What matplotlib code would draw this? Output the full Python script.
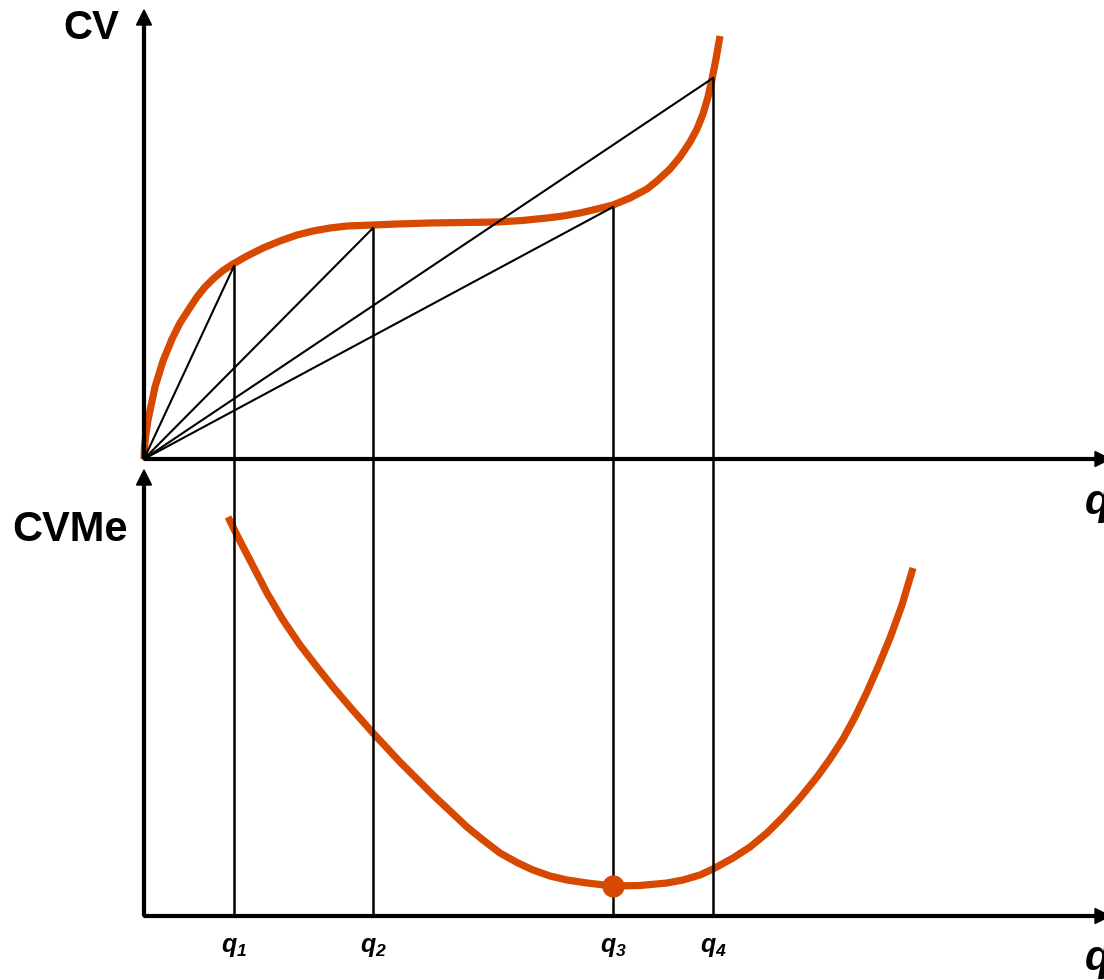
import matplotlib
matplotlib.use("Agg")
import matplotlib.pyplot as plt

plt.rcParams['font.family'] = ['Liberation Sans', 'DejaVu Sans']
plt.rcParams['mathtext.fontset'] = 'custom'
plt.rcParams['mathtext.it'] = 'Liberation Sans:italic:bold'
plt.rcParams['mathtext.rm'] = 'Liberation Sans:italic:bold'
plt.rcParams['mathtext.bf'] = 'Liberation Sans:italic:bold'

# ---- data ----
cv_q = [0.0, 0.005, 0.015, 0.04, 0.11, 0.19, 0.28, 0.36, 0.45, 0.53, 0.61,
        0.69, 0.79, 0.89, 1.03, 1.19, 1.36, 1.53, 1.69, 1.86, 2.03, 2.29,
        2.53, 2.86, 3.19, 3.53, 3.78, 4.03, 4.19, 4.36, 4.53, 4.69, 4.86,
        5.03, 5.13, 5.26, 5.36, 5.46, 5.53, 5.59, 5.64, 5.68, 5.72, 5.76]
cv_v = [0.0, 0.12, 0.22, 0.39, 0.72, 0.98, 1.20, 1.36, 1.50, 1.62, 1.72,
        1.80, 1.885, 1.95, 2.03, 2.11, 2.18, 2.24, 2.28, 2.31, 2.33, 2.34,
        2.35, 2.36, 2.365, 2.37, 2.385, 2.41, 2.43, 2.46, 2.50, 2.54, 2.61,
        2.70, 2.78, 2.90, 3.02, 3.17, 3.30, 3.45, 3.62, 3.80, 4.00, 4.23]

cvme_q = [0.84, 0.96, 1.09, 1.23, 1.39, 1.56, 1.73, 1.89, 2.06, 2.29, 2.43,
          2.56, 2.73, 2.89, 3.06, 3.23, 3.39, 3.56, 3.73, 3.89, 4.06, 4.23,
          4.43, 4.69, 4.96, 5.23, 5.39, 5.56, 5.69, 5.89, 6.06, 6.23, 6.39,
          6.56, 6.73, 6.86, 6.99, 7.11, 7.23, 7.34, 7.46, 7.58, 7.69]
cvme_v = [3.99, 3.75, 3.50, 3.23, 2.96, 2.71, 2.49, 2.29, 2.09, 1.83, 1.68,
          1.54, 1.37, 1.21, 1.05, 0.89, 0.76, 0.63, 0.535, 0.46, 0.40, 0.36,
          0.33, 0.30, 0.305, 0.33, 0.36, 0.41, 0.47, 0.58, 0.69, 0.83, 0.99,
          1.18, 1.39, 1.57, 1.77, 1.99, 2.24, 2.49, 2.78, 3.11, 3.48]

q_marks = [0.90, 2.29, 4.69, 5.69]
cv_at_marks = [1.93, 2.31, 2.52, 3.81]
q_labels = [r'$q_1$', r'$q_2$', r'$q_3$', r'$q_4$']
min_q = 4.69
min_cvme = 0.30

ORANGE = '#D74800'
W, H = 1104, 980

fig = plt.figure(figsize=(W / 100, H / 100), dpi=100)
ax_top = fig.add_axes([0, 1 - 459 / H, 1, 459 / H])
ax_bot = fig.add_axes([0, 0, 1, 521 / H])
ax_top.set_xlim(-1.44, 9.60)
ax_top.set_ylim(0, 4.59)
ax_bot.set_xlim(-1.44, 9.60)
ax_bot.set_ylim(-0.64, 4.57)
for ax in (ax_top, ax_bot):
    ax.set_axis_off()

# axes arrows
arrow_kw = dict(width=0.028, head_width=0.15, head_length=0.15,
                length_includes_head=True, color='black', zorder=4,
                clip_on=False)
ax_top.arrow(0, 0, 0, 4.49, **arrow_kw)
ax_top.arrow(0, 0, 9.66, 0, **arrow_kw)
ax_bot.arrow(0, 0, 0, 4.46, **arrow_kw)
ax_bot.arrow(0, 0, 9.66, 0, **arrow_kw)

# curves
ax_top.plot(cv_q, cv_v, color=ORANGE, lw=5.2, solid_capstyle='butt',
            solid_joinstyle='round', zorder=2, clip_on=False)
ax_bot.plot(cvme_q, cvme_v, color=ORANGE, lw=5.2, solid_capstyle='butt',
            solid_joinstyle='round', zorder=2, clip_on=False)

# rays and verticals
for q, v in zip(q_marks, cv_at_marks):
    ax_top.plot([0, q], [0, v], color='black', lw=1.5, zorder=3)
    ax_top.plot([q, q], [0, v], color='black', lw=1.8, zorder=3,
                solid_capstyle='butt', clip_on=False)
    ax_bot.plot([q, q], [0, 4.57], color='black', lw=1.8, zorder=3,
                solid_capstyle='butt', clip_on=False)

ax_bot.plot([min_q], [min_cvme], 'o', ms=15, color=ORANGE, zorder=5)

# q labels
for q, lab in zip(q_marks, q_labels):
    ax_bot.text(q, -0.36, lab, fontsize=18, ha='center', va='baseline')

# axis labels
fig.text(91 / W, 1 - 39 / H, 'CV', fontsize=29, fontweight='bold',
         ha='center', va='baseline')
fig.text(70 / W, 1 - 541 / H, 'CVMe', fontsize=30, fontweight='bold',
         ha='center', va='baseline')
fig.text(1085 / W, 1 - 514 / H, 'q', fontsize=30, fontweight='bold',
         fontstyle='italic', ha='left', va='baseline')
fig.text(1085 / W, 1 - 970 / H, 'q', fontsize=30, fontweight='bold',
         fontstyle='italic', ha='left', va='baseline')

fig.savefig('out.png', dpi=100)
